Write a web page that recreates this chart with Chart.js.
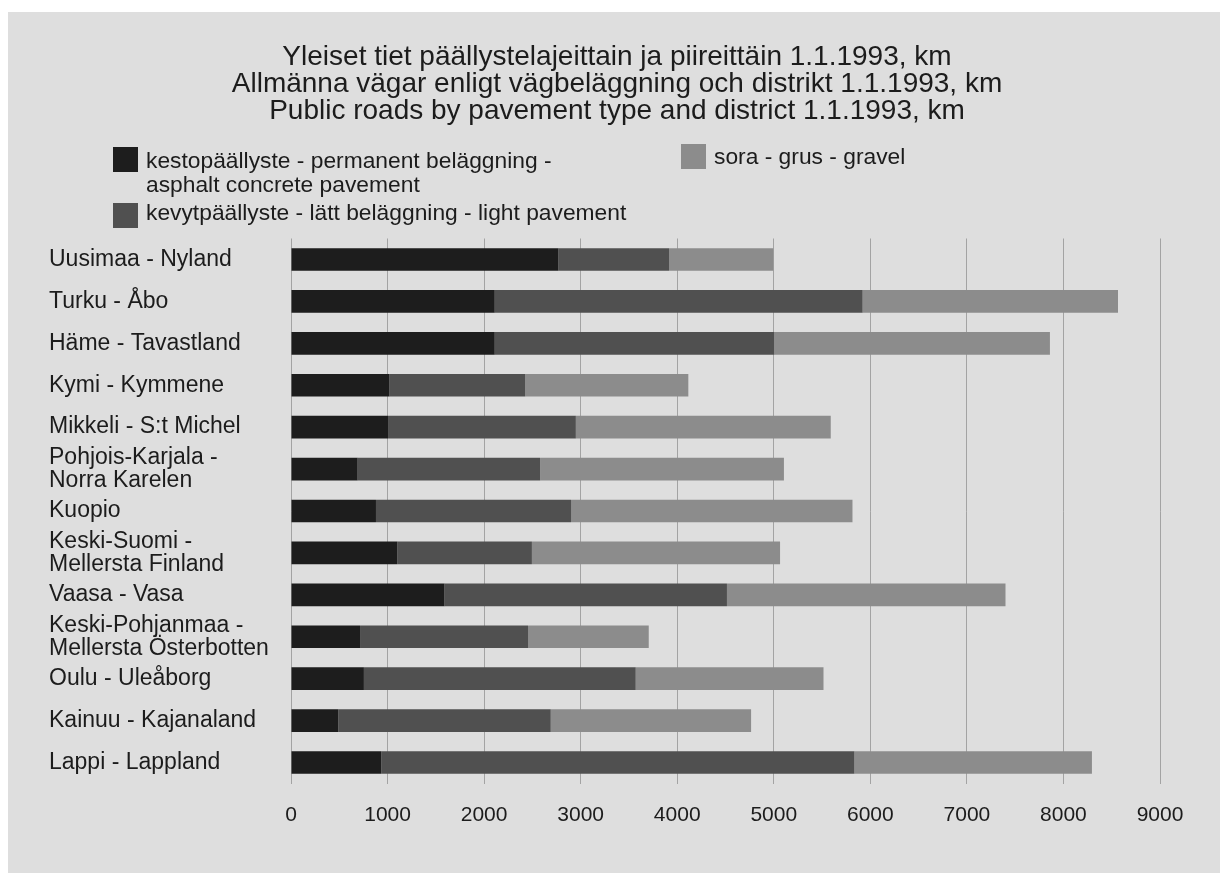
<!DOCTYPE html>
<html>
<head>
<meta charset="utf-8">
<title>Yleiset tiet päällystelajeittain</title>
<script src="https://cdn.jsdelivr.net/npm/chart.js@4/dist/chart.umd.min.js"></script>
<style>
    body { margin: 0; background: #ffffff; }
    canvas { display: block; }
</style>
</head>
<body>
<canvas id="myChart" width="1220" height="873"></canvas>
<script>
// du lieu doc tu hinh
var districts = [
    "Uusimaa - Nyland",
    "Turku - Åbo",
    "Häme - Tavastland",
    "Kymi - Kymmene",
    "Mikkeli - S:t Michel",
    ["Pohjois-Karjala -", "Norra Karelen"],
    "Kuopio",
    ["Keski-Suomi -", "Mellersta Finland"],
    "Vaasa - Vasa",
    ["Keski-Pohjanmaa -", "Mellersta Österbotten"],
    "Oulu - Uleåborg",
    "Kainuu - Kajanaland",
    "Lappi - Lappland"
];
var kesto = [2770, 2110, 2110, 1020, 1005, 690, 880, 1100, 1590, 715, 755, 490, 935];
var kevyt = [1145, 3810, 2895, 1405, 1945, 1890, 2020, 1395, 2925, 1740, 2815, 2200, 4900];
var sora = [1080, 2645, 2855, 1690, 2640, 2525, 2915, 2570, 2885, 1250, 1945, 2075, 2460];
var xTicks = [0, 1000, 2000, 3000, 4000, 5000, 6000, 7000, 8000, 9000];

var titleLines = [
    "Yleiset tiet päällystelajeittain ja piireittäin 1.1.1993, km",
    "Allmänna vägar enligt vägbeläggning och distrikt 1.1.1993, km",
    "Public roads by pavement type and district 1.1.1993, km"
];
var seriesNames = [
    ["kestopäällyste - permanent beläggning -", "asphalt concrete pavement"],
    ["kevytpäällyste - lätt beläggning - light pavement"],
    ["sora - grus - gravel"]
];

var fontName = "'Liberation Sans', Arial, Helvetica, sans-serif";
var textColor = "#1c1c1c";

// nen xam, tieu de va chu thich ve tay
var decorPlugin = {
    id: "decor",
    beforeDraw: function (chart) {
        var ctx = chart.ctx;
        ctx.save();
        ctx.fillStyle = "#dedede";
        ctx.fillRect(8, 12, chart.width - 8, chart.height - 12);
        ctx.restore();
    },
    afterDraw: function (chart) {
        var ctx = chart.ctx;
        ctx.save();
        ctx.fillStyle = textColor;
        ctx.textBaseline = "alphabetic";

        ctx.font = "28px " + fontName;
        ctx.textAlign = "center";
        for (var i = 0; i < titleLines.length; i++) {
            ctx.fillText(titleLines[i], 617, 65 + i * 27);
        }

        // vi tri chu thich: [x hop, y hop, y dong dau]
        var spots = [[113, 147, 168], [113, 203, 220], [681, 144, 164]];
        ctx.font = "22.8px " + fontName;
        ctx.textAlign = "left";
        chart.data.datasets.forEach(function (ds, k) {
            var s = spots[k];
            ctx.fillStyle = ds.backgroundColor;
            ctx.fillRect(s[0], s[1], 25, 25);
            ctx.fillStyle = textColor;
            var lines = seriesNames[k];
            for (var j = 0; j < lines.length; j++) {
                ctx.fillText(lines[j], s[0] + 33, s[2] + j * 24);
            }
        });
        ctx.restore();
    }
};

var ctx = document.getElementById("myChart").getContext("2d");
var myChart = new Chart(ctx, {
    type: "bar",
    data: {
        labels: districts,
        datasets: [
            { label: seriesNames[0].join(" "), data: kesto, backgroundColor: "#1d1d1d" },
            { label: seriesNames[1].join(" "), data: kevyt, backgroundColor: "#505050" },
            { label: seriesNames[2].join(" "), data: sora, backgroundColor: "#8c8c8c" }
        ]
    },
    options: {
        indexAxis: "y",
        responsive: false,
        animation: false,
        datasets: {
            bar: {
                barPercentage: 0.54,
                categoryPercentage: 1,
                borderWidth: 0
            }
        },
        layout: {
            padding: { left: 49, right: 60, top: 238.5, bottom: 26.3 }
        },
        plugins: {
            legend: { display: false },
            title: { display: false },
            tooltip: { enabled: false }
        },
        scales: {
            x: {
                stacked: true,
                min: 0,
                max: 9000,
                afterBuildTicks: function (axis) {
                    axis.ticks = xTicks.map(function (v) { return { value: v }; });
                },
                border: { display: false },
                grid: { color: "#a3a3a3", lineWidth: 1, drawTicks: false },
                ticks: {
                    padding: 19,
                    color: textColor,
                    font: { family: fontName, size: 21 },
                    callback: function (value) {
                        return String(value);
                    }
                }
            },
            y: {
                stacked: true,
                afterFit: function (axis) {
                    axis.width = 242;
                },
                border: { display: false },
                grid: { display: false },
                ticks: {
                    autoSkip: false,
                    crossAlign: "far",
                    color: textColor,
                    font: { family: fontName, size: 23, lineHeight: 1.0 }
                }
            }
        }
    },
    plugins: [decorPlugin]
});
</script>
</body>
</html>
